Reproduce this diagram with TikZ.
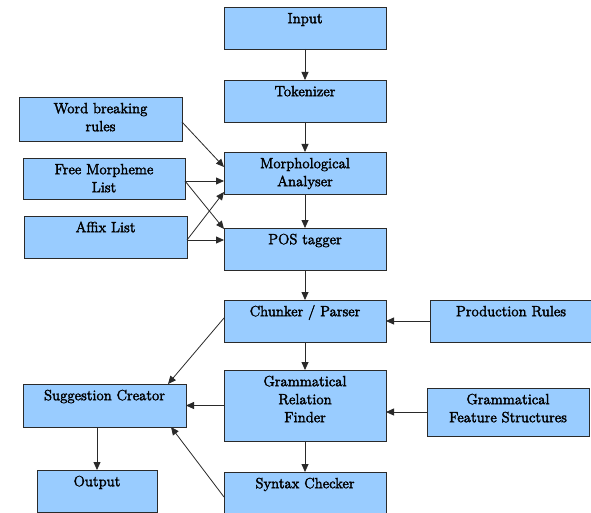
\documentclass[tikz,border=0pt]{standalone}
\usetikzlibrary{arrows.meta,fit,calc}
\definecolor{boxblue}{HTML}{99CCFF}
\definecolor{edge}{HTML}{2A2A2A}
\tikzset{
  box/.style={draw=edge, line width=0.9pt, fill=boxblue, inner sep=0pt, outer sep=0pt},
  txt/.style={inner sep=0pt, align=center, font=\rmfamily\fontsize{14.8}{18}\selectfont, anchor=north},
  conn/.style={draw=edge, line width=0.8pt, -{Triangle[length=8pt,width=7pt]}}
}
\newcommand\heavy[1]{\special{pdf:code 0 0 0 RG 2 Tr 0.35 w}#1\special{pdf:code 0 Tr}}
\newcommand\mybox[6]{%
  \node[box, fit={(#2,#3) (#4,#5)}] (#1) {};
  \node[txt] (#1t) at ([yshift=-3.4pt]#1.north) {\strut\heavy{#6}};}
\begin{document}
\begin{tikzpicture}[x=1pt,y=-1pt]
\useasboundingbox (0,0) rectangle (591,513);
\fill[white] (0,0) rectangle (591,513);
\clip (0,0) rectangle (591,513);
\mybox{inp}{224}{7}{386}{49}{Input}
\mybox{tok}{224}{80}{386}{122}{Tokenizer}
\mybox{wbr}{19}{97}{182}{141}{Word breaking\\rules}
\mybox{fml}{23}{158}{185}{199}{Free Morpheme\\List}
\mybox{afx}{24}{216}{187}{258}{Affix List}
\mybox{mor}{224}{152}{386}{194}{Morphological\\Analyser}
\mybox{pos}{224}{228}{386}{270}{POS tagger}
\mybox{chk}{224}{300}{386}{342}{Chunker / Parser}
\mybox{prd}{430}{300}{592}{342}{Production Rules}
\mybox{grf}{224}{370}{386}{441}{Grammatical\\Relation\\Finder}
\mybox{gfs}{427}{388}{589}{436}{Grammatical\\Feature Structures}
\mybox{syn}{224}{472}{386}{520}{Syntax Checker}
\mybox{sug}{23}{384}{186}{427}{Suggestion Creator}
\mybox{out}{37}{470}{157}{512}{Output}
% vertical chain
\draw[conn] (inp.south) -- (tok.north);
\draw[conn] (tok.south) -- (mor.north);
\draw[conn] (mor.south) -- (pos.north);
\draw[conn] (pos.south) -- (chk.north);
\draw[conn] (chk.south) -- (grf.north);
\draw[conn] (grf.south) -- (syn.north);
% left inputs
\draw[conn] ([yshift=19pt]wbr.south east) -- ([yshift=6pt]mor.west);
\draw[conn] ([yshift=-2.5pt]fml.east) -- ([yshift=-8pt]mor.west);
\draw[conn] ([yshift=-2.5pt]fml.east) -- ([yshift=-1pt]pos.north west);
\draw[conn] ([yshift=-3pt]afx.east) -- ([yshift=2pt]mor.south west);
\draw[conn] ([yshift=-3pt]afx.east) -- ([yshift=9pt]pos.west);
% right inputs
\draw[conn] (prd.west) -- (prd.west -| chk.east);
\draw[conn] (gfs.west) -- (gfs.west -| grf.east);
% to suggestion creator
\draw[conn] ([yshift=3pt]chk.west) -- ([xshift=-18pt]sug.north east);
\draw[conn] (grf.west) -- (grf.west -| sug.east);
\draw[conn] ([yshift=-25pt]syn.north west) -- ([xshift=-15pt]sug.south east);
\draw[conn] (out.north |- sug.south) -- (out.north);
\end{tikzpicture}
\end{document}
